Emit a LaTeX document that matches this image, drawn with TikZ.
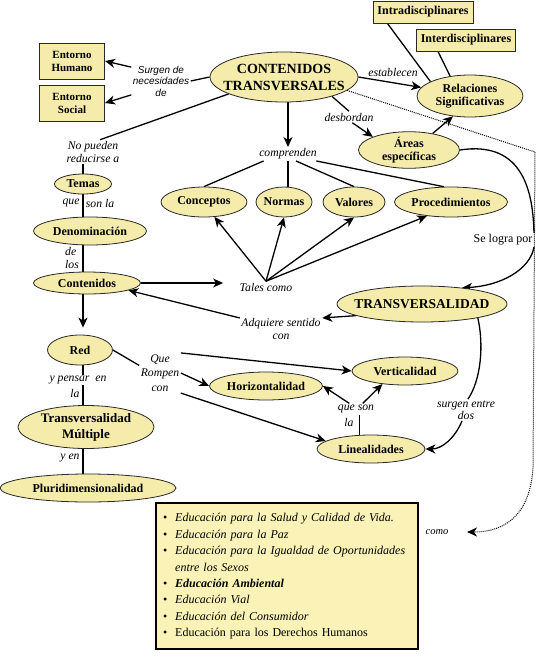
\documentclass[tikz,border=0pt]{standalone}
\usepackage{fontspec}
\setmainfont{Liberation Serif}
\newfontfamily\arialfont{Liberation Sans}
\usepackage{tikz}
\usetikzlibrary{shapes.geometric,arrows.meta,backgrounds,calc}
\usepackage{xcolor}
\definecolor{MapYellow}{RGB}{245,235,170}
\definecolor{ListYellow}{RGB}{250,242,182}
\definecolor{MapLine}{RGB}{40,40,40}

\begin{document}
\begin{tikzpicture}[x=1pt,y=-1pt,line width=1.3pt,
  concept/.style={ellipse,draw=MapLine,fill=MapYellow,line width=0.8pt,
              inner xsep=-10pt,inner ysep=0pt,align=center,
              font=\bfseries\fontsize{12}{13}\selectfont},
  entbox/.style={rectangle,draw=MapLine,fill=MapYellow,line width=1pt,
              align=center,font=\bfseries\fontsize{11}{13}\selectfont},
  linklbl/.style={inner sep=1pt,align=center,
              font=\itshape\fontsize{11.7}{13}\selectfont},
  listbox/.style={rectangle,draw=black,fill=ListYellow,line width=1.8pt,
              minimum width=262pt,minimum height=146pt,text width=248pt,
              inner xsep=7pt,font=\fontsize{12}{16.4}\selectfont},
  arr/.style={-{Stealth[length=10pt,width=9pt,inset=3pt]}},
]
\useasboundingbox (0,0) rectangle (538,659);

% CONTENIDOS TRANSVERSALES --- main concept
\node[concept,font=\bfseries\fontsize{14}{17}\selectfont,
      minimum width=148pt,minimum height=50pt] (contr) at (284,77) {CONTENIDOS\\TRANSVERSALES};
\node[entbox,font=\bfseries\fontsize{12}{13}\selectfont,minimum width=100pt,minimum height=22pt] (intra) at (423,12) {Intradisciplinares};
\node[entbox,font=\bfseries\fontsize{12}{13}\selectfont,minimum width=99pt,minimum height=22pt] (inter) at (466,40) {Interdisciplinares};
\node[concept,minimum width=106pt,minimum height=42pt] (relac) at (470,96) {Relaciones\\Significativas};
\node[concept,minimum width=101pt,minimum height=36pt] (areas) at (409,150) {Áreas\\específicas};
\node[entbox,minimum width=65pt,minimum height=36pt] (ehum) at (72,61) {Entorno\\Humano};
\node[entbox,minimum width=65pt,minimum height=36pt] (esoc) at (72,103) {Entorno\\Social};

% link words, top
\node[linklbl,font=\arialfont\itshape\fontsize{10}{11.5}\selectfont] (surgen) at (161,81) {Surgen de\\necesidades\\de};
\node[linklbl] (nopueden) at (93,152) {No pueden\\reducirse a};
\node[linklbl] (establ) at (393,72) {establecen};
\node[linklbl] (desb) at (349,117) {desbordan};
\node[linklbl] (compr) at (288,154) {comprenden};

% Conceptos / Normas / Valores / Procedimientos
\node[concept,minimum width=86pt,minimum height=30pt] (conc) at (204,202) {Conceptos};
\node[concept,minimum width=56pt,minimum height=30pt] (norm) at (284,202) {Normas};
\node[concept,minimum width=62pt,minimum height=30pt] (valo) at (354,202) {Valores};
\node[concept,minimum width=113pt,minimum height=30pt] (proc) at (451,202) {Procedimientos};

% left column
\node[concept,minimum width=57pt,minimum height=20pt] (tem) at (83,184) {Temas};
\node[concept,minimum width=113pt,minimum height=28pt] (denom) at (90,231) {Denominación};
\node[concept,minimum width=107pt,minimum height=22pt] (cont) at (87,283) {Contenidos};
\node[concept,minimum width=65pt,minimum height=30pt] (red) at (80,350) {Red};
\node[concept,font=\bfseries\fontsize{13}{16}\selectfont,
      minimum width=136pt,minimum height=43pt] (tmul) at (86,427) {Transversalidad\\Múltiple};
\node[concept,minimum width=176pt,minimum height=28pt] (plur) at (88,488) {Pluridimensionalidad};

% TRANSVERSALIDAD and the linealidades
\node[concept,font=\bfseries\fontsize{13.5}{15}\selectfont,
      minimum width=170pt,minimum height=36pt] (trans) at (422,304) {TRANSVERSALIDAD};
\node[concept,minimum width=113pt,minimum height=28pt] (horiz) at (266,386) {Horizontalidad};
\node[concept,minimum width=106pt,minimum height=28pt] (vert) at (405,371) {Verticalidad};
\node[concept,minimum width=108pt,minimum height=28pt] (lineal) at (371,449) {Linealidades};

% link words, lower part
\node[linklbl] (que) at (71,203) {que};
\node[linklbl] (sonla) at (100,203) {son la};
\node[linklbl,align=left] (delos) at (72,258) {de\\los};
\node[linklbl] (tales) at (266,287) {Tales como};
\node[linklbl] (adq) at (281,329) {Adquiere sentido\\con};
\node[linklbl,font=\fontsize{12}{13}\selectfont] (selogra) at (503,240) {Se logra por};
\node[linklbl,font=\itshape\fontsize{11.7}{14.5}\selectfont] (rompen) at (160,373) {Que\\Rompen\\con};
\node[linklbl,fill=white] (ypensar) at (78,380) {y pensar\ \ en};
\node[linklbl] (la) at (75,393) {la};
\node[linklbl] (yen) at (70,458) {y en};
\node[linklbl] (queson) at (356,409) {que son};
\node[linklbl] (la2) at (349,422) {la};
\node[linklbl,font=\itshape\fontsize{11.7}{10}\selectfont] (surgent) at (466,410) {surgen entre\\dos};
\node[linklbl,font=\itshape\fontsize{10.5}{12}\selectfont] (como) at (437,532) {como};
\coordinate (dtop) at (535,152);
\coordinate (dbot) at (533,468);

% list of transversal subjects
\node[listbox] (lista) at (287,576) {\begin{tabular}{@{}c@{\hspace{8pt}}l@{}}
\textbullet & \textit{Educación para la Salud y Calidad de Vida.}\\
\textbullet & \textit{Educación para la Paz}\\
\textbullet & \textit{Educación para la Igualdad de Oportunidades}\\
 & \textit{entre los Sexos}\\
\textbullet & \textbf{\textit{Educación Ambiental}}\\
\textbullet & \textit{Educación Vial}\\
\textbullet & \textit{Educación del Consumidor}\\
\textbullet & Educación para los Derechos Humanos
\end{tabular}};

\begin{scope}[on background layer={line width=1.3pt}]
% top connectors
\draw (contr.west) -- (surgen.east);
\draw[arr] (surgen.155) -- (ehum.east);
\draw[arr] (surgen.205) -- (esoc.east);
\draw (contr.197) -- (nopueden.60);
\draw[arr] (contr.east) -- (relac.170);
\draw[arr] (areas.35) -- (relac.230);
\draw ([xshift=15pt]intra.south west) -- (relac.160);
\draw ([xshift=-28pt]inter.south) -- (relac.135);
\draw (contr.-22) -- (desb.north);
\draw[arr] (desb.300) -- (areas.160);
% left column
\draw (tem.north |- nopueden.south) -- (tem.north);
\draw (tem.south) -- (tem.south |- denom.north);
\draw (tem.south |- denom.south) -- (tem.south |- cont.north);
\draw[arr,shorten >=7pt] (tem.south |- cont.south) -- (tem.south |- red.north);
\draw (tem.south |- red.south) -- (tem.south |- tmul.north);
\draw (tem.south |- tmul.south) -- (tem.south |- plur.north);
% comprenden / tales como
\draw[arr] (compr.north |- contr.south) -- (compr.north);
\draw ([xshift=6pt]compr.south west) -- (conc.north);
\draw (compr.south) -- (compr.south |- norm.north);
\draw ([xshift=8pt]compr.south) -- (valo.north);
\draw ([xshift=-2pt]compr.south east) -- (proc.115);
\foreach \tgt in {conc.305,norm.south,valo.south,proc.210}
  \draw[arr] (tales.north) -- (\tgt);
\draw[arr,shorten >=15pt] (cont.east) -- (cont.east -| tales.west);
\draw[arr] (trans.190) -- (adq.15);
\draw[arr] (adq.165) -- (cont.-10);
% Se logra por
\draw (areas.east) .. controls (525,140) and (533,195) .. (selogra.north east);
\draw[arr] (selogra.south east) .. controls (530,270) and (500,286) .. (trans.22);
% surgen entre dos
\draw (trans.-14) .. controls (484,345) and (481,380) .. (surgent.80);
\draw[arr] (surgent.250) .. controls (455,438) and (442,449) .. (lineal.east);
% Que Rompen con
\draw (red.east) -- (rompen.160);
\draw[arr] (rompen.east) -- (horiz.west);
\draw[arr] (rompen.north east) -- (vert.west);
\draw[arr] (rompen.south east) -- (lineal.170);
\draw[arr] (queson.140) -- (horiz.east);
\draw[arr] (queson.40) -- (vert.210);
\draw (queson.-60) -- (queson.-60 |- lineal.north);
% como
\draw[densely dotted,line width=1pt,arr,shorten >=17pt] (contr.-12) -- (dtop) -- (dbot)
  .. controls (530,515) and (505,532) .. (como.east);
\end{scope}
\end{tikzpicture}
\end{document}
